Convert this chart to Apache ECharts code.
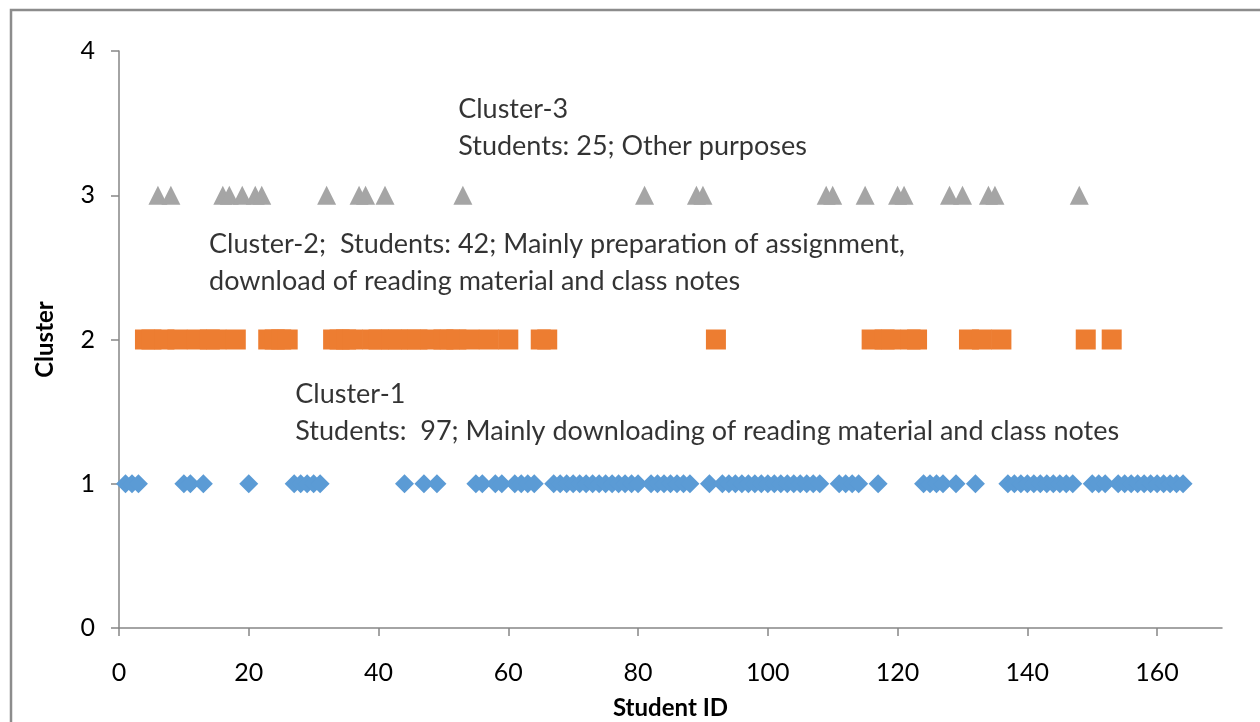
<!DOCTYPE html>
<html>
<head>
<meta charset="utf-8">
<script src="https://cdn.jsdelivr.net/npm/echarts@6/dist/echarts.min.js"></script>
<style>
  html, body { margin: 0; padding: 0; background: #fff; }
  #main { width: 1260px; height: 722px; }
</style>
</head>
<body>
<div id="main"></div>
<script>
// student ids per cluster
const cluster1Ids = [1, 2, 3, 10, 11, 13, 20, 27, 28, 29, 30, 31, 44, 47, 49, 55, 56, 58, 59,
  61, 62, 63, 64, 67, 68, 69, 70, 71, 72, 73, 74, 75, 76, 77, 78, 79, 80,
  82, 83, 84, 85, 86, 87, 88, 91, 93, 94, 95, 96, 97, 98, 99, 100, 101, 102, 103, 104,
  105, 106, 107, 108, 111, 112, 113, 114, 117, 124, 125, 126, 127, 129, 132,
  137, 138, 139, 140, 141, 142, 143, 144, 145, 146, 147, 150, 151, 152,
  154, 155, 156, 157, 158, 159, 160, 161, 162, 163, 164];
const cluster2Ids = [4, 5, 7, 9, 12, 14, 15, 18, 23, 24, 25, 26, 33, 34, 35, 36, 39, 40, 42, 43,
  45, 46, 48, 50, 51, 52, 54, 57, 60, 65, 66, 92, 116, 118, 119, 122, 123,
  131, 133, 136, 149, 153];
const cluster3Ids = [6, 8, 16, 17, 19, 21, 22, 32, 37, 38, 41, 53, 81, 89, 90, 109, 110, 115,
  120, 121, 128, 130, 134, 135, 148];

const xTicks = [0, 20, 40, 60, 80, 100, 120, 140, 160];
const yTicks = [0, 1, 2, 3, 4];

// annotation text and anchor (student id, cluster value)
const noteText = [
  'Cluster-3\nStudents: 25; Other purposes',
  'Cluster-2;  Students: 42; Mainly preparation of assignment,\ndownload of reading material and class notes',
  'Cluster-1\nStudents:  97; Mainly downloading of reading material and class notes'
];
const noteAt = [[52.2, 3.47], [13.8, 2.53], [27.1, 1.49]];

const chart = echarts.init(document.getElementById('main'));

const axisGrey = '#868686';
const font = 'Lato, "DejaVu Sans", sans-serif';

chart.setOption({
  animation: false,
  backgroundColor: '#fff',
  graphic: [{
    type: 'rect',
    shape: { x: 11, y: 10, width: 1300, height: 800 },
    style: { fill: 'none', stroke: '#8c8c8c', lineWidth: 2.5 },
    silent: true
  }],
  grid: { left: 119, right: 38, top: 51, bottom: 94, outerBoundsMode: 'none', containLabel: false },
  xAxis: {
    type: 'value',
    min: 0,
    max: 170,
    name: 'Student ID',
    nameLocation: 'middle',
    nameGap: 68,
    nameMoveOverlap: false,
    nameTextStyle: { fontFamily: font, fontWeight: 'bold', fontSize: 24, color: '#000' },
    splitLine: { show: false },
    axisLine: { show: true, lineStyle: { color: axisGrey, width: 1.5 } },
    axisTick: { show: true, customValues: xTicks, length: 8, lineStyle: { color: axisGrey, width: 1.5 } },
    axisLabel: { customValues: xTicks, margin: 32, fontFamily: font, fontSize: 25, color: '#000' }
  },
  yAxis: {
    type: 'value',
    min: 0,
    max: 4,
    interval: 1,
    name: 'Cluster',
    nameLocation: 'middle',
    nameGap: 62,
    nameMoveOverlap: false,
    nameRotate: 90,
    nameTextStyle: { fontFamily: font, fontWeight: 'bold', fontSize: 24, color: '#000' },
    splitLine: { show: false },
    axisLine: { show: true, lineStyle: { color: axisGrey, width: 1.5 } },
    axisTick: { show: true, length: 8, lineStyle: { color: axisGrey, width: 1.5 } },
    axisLabel: { margin: 24, fontFamily: font, fontSize: 25, color: '#000' }
  },
  series: [
    {
      name: 'Cluster-1',
      type: 'scatter',
      symbol: 'diamond',
      symbolSize: [19, 19],
      itemStyle: { color: '#5B9BD5', opacity: 1 },
      data: cluster1Ids.map(id => [id, 1])
    },
    {
      name: 'Cluster-2',
      type: 'scatter',
      symbol: 'rect',
      symbolSize: [20, 20],
      itemStyle: { color: '#ED7D31', opacity: 1 },
      data: cluster2Ids.map(id => [id, 2])
    },
    {
      name: 'Cluster-3',
      type: 'scatter',
      symbol: 'triangle',
      symbolSize: [19, 19],
      itemStyle: { color: '#A5A5A5', opacity: 1 },
      data: cluster3Ids.map(id => [id, 3])
    },
    {
      name: 'notes',
      type: 'scatter',
      silent: true,
      symbolSize: 1,
      itemStyle: { color: 'transparent' },
      label: {
        show: true,
        position: 'right',
        distance: 0,
        formatter: p => noteText[p.dataIndex],
        fontFamily: font,
        fontSize: 27,
        lineHeight: 37,
        color: '#000'
      },
      data: noteAt
    }
  ]
});
</script>
</body>
</html>
